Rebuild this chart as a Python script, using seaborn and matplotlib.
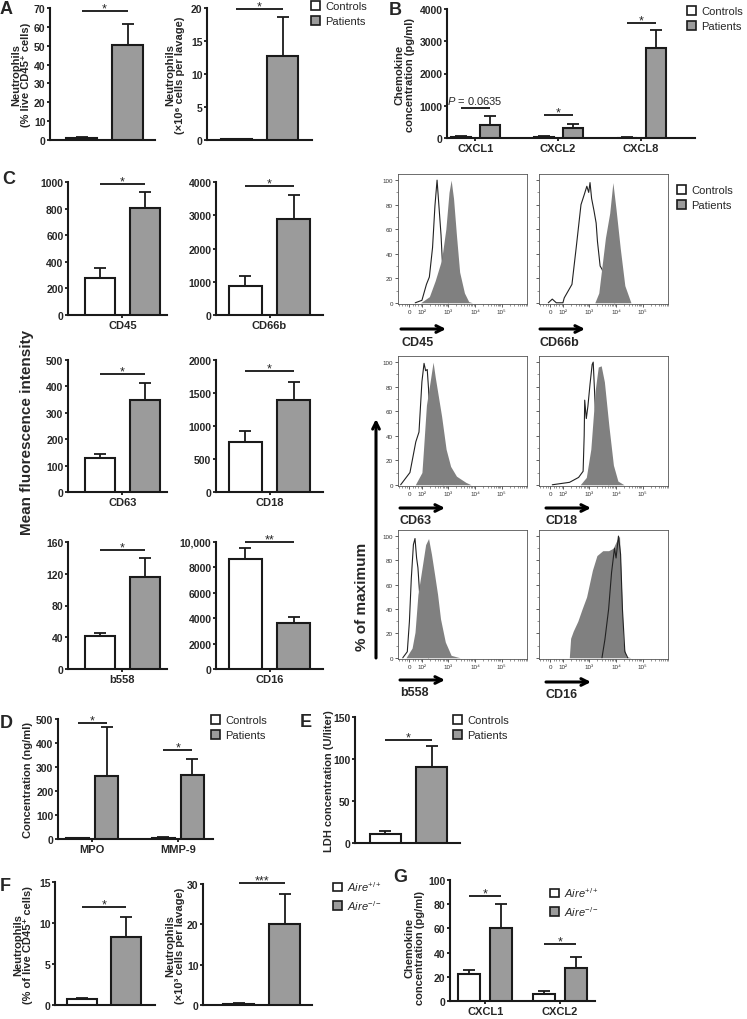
import numpy as np
import pandas as pd
import seaborn as sns
import matplotlib.pyplot as plt
from matplotlib.patches import Patch

sns.set_style("ticks")
plt.rcParams["font.family"] = ["Liberation Sans", "DejaVu Sans"]
plt.rcParams["font.weight"] = "bold"
plt.rcParams["mathtext.fontset"] = "custom"
plt.rcParams["mathtext.rm"] = "Liberation Sans:weight=normal"
plt.rcParams["mathtext.it"] = "Liberation Sans:style=italic:weight=normal"
plt.rcParams["mathtext.bf"] = "Liberation Sans:weight=bold"

# ---- data ----
groups = ["Controls", "Patients"]

# A: neutrophils in lavage
a_pct = [1.0, 50.5]
a_pct_err = [0.4, 10.8]
a_cells = [0.1, 12.7]
a_cells_err = [0.05, 5.9]

# B: chemokines
b_cats = ["CXCL1", "CXCL2", "CXCL8"]
b_ctrl = [45, 40, 12]
b_ctrl_err = [20, 15, 5]
b_pat = [410, 300, 2790]
b_pat_err = [270, 140, 560]
b_sig_y = [930, 713, 3565]
b_sig_txt = ["$\\it{P}$ = 0.0635", "*", "*"]

# C: mean fluorescence intensity
c_markers = ["CD45", "CD66b", "CD63", "CD18", "b558", "CD16"]
c_ctrl = [278, 880, 128, 755, 42, 8640]
c_ctrl_err = [72, 280, 16, 175, 3, 915]
c_pat = [807, 2900, 349, 1397, 116, 3586]
c_pat_err = [118, 720, 62, 271, 23.5, 472]
c_ymax = [1000, 4000, 500, 2000, 160, 10000]
c_ystep = [200, 1000, 100, 500, 40, 2000]
c_sig_y = [985, 3880, 447, 1833, 150, 10000]
c_stars = ["*", "*", "*", "*", "*", "**"]

# C: flow histograms (display position in decades from 10^2, % of max)
cd45_ctrl_x = [-0.25, 0.0, 0.17, 0.28, 0.4, 0.49, 0.57, 0.62, 0.72, 0.8, 0.9, 1.0]
cd45_ctrl_y = [0, 2, 15, 21, 45, 79, 100, 85, 55, 20, 3, 0]
cd45_pat_x = [-0.05, 0.28, 0.5, 0.74, 0.9, 1.02, 1.1, 1.19, 1.3, 1.42, 1.6, 1.76, 1.9]
cd45_pat_y = [0, 5, 18, 35, 60, 90, 100, 85, 55, 25, 8, 1, 0]
cd66b_ctrl_x = [-0.55, -0.4, -0.25, 0.0, 0.05, 0.34, 0.5, 0.68, 0.8, 0.9, 0.97, 1.02, 1.08, 1.17, 1.25, 1.3, 1.4, 1.48, 1.6, 1.78, 1.95]
cd66b_ctrl_y = [0, 3, 0, 0, 4, 15, 45, 80, 88, 95, 90, 98, 85, 75, 65, 50, 30, 27, 15, 4, 0]
cd66b_pat_x = [1.2, 1.35, 1.6, 1.76, 1.88, 2.0, 2.16, 2.33, 2.56]
cd66b_pat_y = [0, 8, 53, 73, 98, 76, 44, 14, 0]
cd63_ctrl_x = [-0.8, -0.45, -0.23, -0.11, 0.0, 0.08, 0.14, 0.2, 0.25, 0.34, 0.45, 0.62, 0.8]
cd63_ctrl_y = [0, 10, 35, 43, 84, 99, 93, 94, 78, 37, 15, 5, 0]
cd63_pat_x = [-0.25, 0.0, 0.06, 0.17, 0.28, 0.42, 0.5, 0.62, 0.74, 0.91, 1.08, 1.3, 1.65, 1.85]
cd63_pat_y = [0, 10, 29, 65, 80, 100, 88, 72, 56, 29, 15, 7, 2, 0]
cd18_ctrl_x = [-0.4, 0.25, 0.59, 0.76, 0.8, 0.82, 0.88, 0.94, 1.02, 1.1, 1.14, 1.22, 1.3, 1.4, 1.56, 1.73]
cd18_ctrl_y = [0, 2, 6, 11, 40, 69, 54, 64, 82, 98, 100, 62, 40, 15, 3, 0]
cd18_pat_x = [0.65, 0.88, 1.05, 1.22, 1.33, 1.44, 1.56, 1.73, 1.9, 2.07, 2.3]
cd18_pat_y = [0, 6, 29, 78, 96, 97, 84, 48, 16, 3, 0]
b558_ctrl_x = [-0.72, -0.55, -0.47, -0.4, -0.32, -0.26, -0.2, -0.15, -0.09, -0.03, 0.08, 0.25]
b558_ctrl_y = [0, 5, 30, 65, 93, 98, 82, 74, 54, 21, 5, 0]
b558_pat_x = [-0.6, -0.37, -0.26, -0.15, 0.02, 0.14, 0.25, 0.36, 0.48, 0.59, 0.7, 0.88, 1.1, 1.44]
b558_pat_y = [0, 8, 21, 52, 76, 93, 98, 85, 68, 52, 32, 13, 2, 0]
cd16_ctrl_x = [1.47, 1.58, 1.72, 1.83, 1.94, 2.0, 2.09, 2.17, 2.24, 2.33, 2.44]
cd16_ctrl_y = [0, 15, 40, 70, 90, 82, 100, 85, 40, 5, 0]
cd16_pat_x = [0.24, 0.29, 0.39, 0.56, 0.72, 0.89, 1.11, 1.28, 1.5, 1.72, 1.89, 2.06, 2.13, 2.2, 2.28, 2.39, 2.56]
cd16_pat_y = [0, 16, 22, 30, 40, 50, 72, 84, 88, 88, 90, 98, 100, 60, 10, 1, 0]
hist_ticks = [-0.47, 0, 1, 2, 3]
hist_ticklabels = ["0", "10²", "10³", "10⁴", "10⁵"]

# D: MPO / MMP-9
d_cats = ["MPO", "MMP-9"]
d_ctrl = [3, 5]
d_ctrl_err = [1, 2]
d_pat = [262, 265]
d_pat_err = [205, 70]
d_sig_y = [485, 370]

# E: LDH
e_ctrl = [10.7]
e_ctrl_err = [3.6]
e_pat = [90.5]
e_pat_err = [24.5]

# F: Aire mice neutrophils
f_pct = [0.7, 8.3]
f_pct_err = [0.2, 2.4]
f_cells = [0.3, 20.1]
f_cells_err = [0.15, 7.5]

# G: Aire mice chemokines
g_cats = ["CXCL1", "CXCL2"]
g_ctrl = [22, 6]
g_ctrl_err = [4, 2]
g_pat = [60, 27]
g_pat_err = [20, 9]
g_sig_y = [87, 47]

W, H = 747, 1020
EDGE = "#1a1a1a"
GREY = "#9b9b9b"
FILL = "#808080"
pal = {"Controls": "white", "Patients": GREY}

fig = plt.figure(figsize=(W / 100, H / 100), dpi=100)


def px_axes(x0, y0, x1, y1):
    return fig.add_axes([x0 / W, 1 - y1 / H, (x1 - x0) / W, (y1 - y0) / H])


def bar_panel(rect, cats, ctrl, ctrl_err, pat, pat_err, ymax, ystep, xlim,
              width=0.9, gap=0.33, show_x=True, ylabels=None):
    ax = px_axes(*rect)
    df = pd.DataFrame({"cat": list(cats) * 2,
                       "grp": ["Controls"] * len(cats) + ["Patients"] * len(cats),
                       "val": list(ctrl) + list(pat)})
    sns.barplot(data=df, x="cat", y="val", hue="grp", order=list(cats),
                hue_order=groups, palette=pal, edgecolor=EDGE, linewidth=1.5,
                width=width, gap=gap, errorbar=None, legend=False, ax=ax, zorder=3)
    centers = []
    for cont, errs in zip(ax.containers, [ctrl_err, pat_err]):
        cs = []
        for p, e in zip(cont, errs):
            cx = p.get_x() + p.get_width() / 2
            ax.errorbar(cx, p.get_height(), yerr=[[0], [e]], fmt="none",
                        ecolor=EDGE, elinewidth=1.3, capsize=4.5, capthick=1.3,
                        zorder=2)
            cs.append(cx)
        centers.append(cs)
    ax.spines[["top", "right"]].set_visible(False)
    for s in ["left", "bottom"]:
        ax.spines[s].set_linewidth(1.5)
        ax.spines[s].set_color(EDGE)
    ax.set_ylim(0, ymax)
    ticks = np.arange(0, ymax + 1, ystep)
    ax.set_yticks(ticks)
    if ylabels is not None:
        ax.set_yticklabels(ylabels)
    ax.set_xlim(*xlim)
    ax.set_xlabel("")
    ax.set_ylabel("")
    ax.tick_params(axis="both", length=2.5, width=1.3, labelsize=7.5, pad=0.8,
                   color=EDGE)
    ax.tick_params(axis="x", labelsize=8, pad=1)
    if not show_x:
        ax.set_xticks([])
    return ax, centers


def sig(ax, x0, x1, y, txt, size=9, off=-2.5):
    ax.plot([x0, x1], [y, y], color="black", lw=1.2, clip_on=False,
            solid_capstyle="butt")
    ax.annotate(txt, xy=((x0 + x1) / 2, y), xytext=(0, off),
                textcoords="offset points", ha="center", va="bottom",
                fontsize=size, fontweight="normal", annotation_clip=False)


def legend(x, y, labels=groups):
    handles = [Patch(facecolor="white", edgecolor=EDGE, lw=1.2),
               Patch(facecolor=GREY, edgecolor=EDGE, lw=1.2)]
    fig.legend(handles, labels, loc="upper left",
               bbox_to_anchor=(x / W, 1 - (y - 7) / H), frameon=False,
               prop={"size": 8, "weight": "normal"}, handlelength=0.8,
               handleheight=0.8, handletextpad=0.5, labelspacing=0.45,
               borderpad=0, borderaxespad=0)


def ylab(x, y, txt, size=8):
    fig.text(x / W, 1 - y / H, txt, rotation=90, ha="center", va="center",
             fontsize=size, fontweight="bold", linespacing=1.05,
             multialignment="center")


def letter(x, y, s):
    fig.text(x / W, 1 - y / H, s, fontsize=13, fontweight="bold",
             ha="left", va="top")


# ---------------- A ----------------
ax, c = bar_panel((50, 9, 155, 141), ["x"], [a_pct[0]], [a_pct_err[0]],
                  [a_pct[1]], [a_pct_err[1]], 70, 10, (-0.52, 0.48),
                  width=0.88, gap=0.33, show_x=False)
sig(ax, c[0][0], c[1][0], 68.5, "*")
ax, c = bar_panel((207, 9, 312, 141), ["x"], [a_cells[0]], [a_cells_err[0]],
                  [a_cells[1]], [a_cells_err[1]], 20, 5, (-0.5, 0.5),
                  width=0.88, gap=0.33, show_x=False)
sig(ax, c[0][0], c[1][0], 19.8, "*")
ylab(21, 75, "Neutrophils\n(% live CD45⁺ cells)")
ylab(175, 75, "Neutrophils\n(×10⁶ cells per lavage)")
legend(311, 9)
letter(0, 1, "A")

# ---------------- B ----------------
ax, c = bar_panel((447, 10, 695, 139), b_cats, b_ctrl, b_ctrl_err, b_pat,
                  b_pat_err, 4000, 1000, (-0.34, 2.65), width=0.7, gap=0.31)
for i in range(3):
    if i == 0:
        sig(ax, c[0][i], c[1][i], b_sig_y[i], b_sig_txt[i], size=8, off=1.5)
    else:
        sig(ax, c[0][i], c[1][i], b_sig_y[i], b_sig_txt[i])
ylab(405, 75, "Chemokine\nconcentration (pg/ml)")
legend(687, 14)
letter(389, 2, "B")

# ---------------- C bars ----------------
rows = [(183, 316), (361, 493), (543, 670)]
cols = [((68, 167), (-0.55, 0.45)), ((216, 323), (-0.5, 0.5))]
for i, m in enumerate(c_markers):
    (x0, x1), xl = cols[i % 2]
    y0, y1 = rows[i // 2]
    ylabels = None
    if m == "CD16":
        ylabels = ["0", "2000", "4000", "6000", "8000", "10,000"]
    ax, c = bar_panel((x0, y0, x1, y1), [m], [c_ctrl[i]], [c_ctrl_err[i]],
                      [c_pat[i]], [c_pat_err[i]], c_ymax[i], c_ystep[i], xl,
                      width=0.9, gap=0.33, ylabels=ylabels)
    sig(ax, c[0][0], c[1][0], c_sig_y[i], c_stars[i])
ylab(27, 432, "Mean fluorescence intensity", size=11)
letter(2, 171, "C")

# ---------------- C histograms ----------------
hists = [
    (cd45_ctrl_x, cd45_ctrl_y, cd45_pat_x, cd45_pat_y, "CD45", False),
    (cd66b_ctrl_x, cd66b_ctrl_y, cd66b_pat_x, cd66b_pat_y, "CD66b", False),
    (cd63_ctrl_x, cd63_ctrl_y, cd63_pat_x, cd63_pat_y, "CD63", False),
    (cd18_ctrl_x, cd18_ctrl_y, cd18_pat_x, cd18_pat_y, "CD18", False),
    (b558_ctrl_x, b558_ctrl_y, b558_pat_x, b558_pat_y, "b558", False),
    (cd16_ctrl_x, cd16_ctrl_y, cd16_pat_x, cd16_pat_y, "CD16", True),
]
h_rows = [(175, 305), (357, 487), (531, 660)]
h_cols = [(398, 527), (539, 668)]
arrow_pos = [(401, 330, 343), (540, 330, 343), (400, 509, 521), (546, 509, 521),
             (400, 681, 693), (546, 683, 695)]
minor = [d + np.log10(k) for d in range(0, 4) for k in range(2, 10)]
minor += [-0.85, -0.75, -0.65, -0.55, -0.35, -0.25, -0.15, -0.05]
for i, (cx, cy, hx, hy, name, line_top) in enumerate(hists):
    x0, x1 = h_cols[i % 2]
    y0, y1 = h_rows[i // 2]
    ax = px_axes(x0, y0, x1, y1)
    ax.fill_between(hx, hy, 0, color=FILL, lw=0, zorder=2 if line_top else 4)
    sns.lineplot(x=cx, y=cy, ax=ax, color="#222222", lw=0.8, sort=False,
                 estimator=None, zorder=5 if line_top else 3)
    ax.set_xlim(-0.9, 3.48)
    ax.set_ylim(-1, 105)
    ax.set_xticks(hist_ticks)
    ax.set_xticklabels(hist_ticklabels)
    ax.set_xticks(minor, minor=True)
    ax.set_yticks(range(0, 101, 20))
    ax.set_yticks(range(0, 101, 10), minor=True)
    if i % 2 == 1:
        ax.set_yticklabels([])
    for s in ax.spines.values():
        s.set_linewidth(0.6)
        s.set_color("#555555")
    ax.tick_params(which="major", length=2.2, width=0.6, labelsize=4.5, pad=1.5,
                   color="#444444", labelcolor="#333333")
    ax.tick_params(which="minor", length=1.2, width=0.4, color="#444444")
    for t in ax.get_xticklabels() + ax.get_yticklabels():
        t.set_fontweight("normal")
    ax.set_xlabel("")
    ax.set_ylabel("")
    ax0, ay, ly = arrow_pos[i]
    ax.annotate("", xy=(ax0 + 45, H - ay), xytext=(ax0, H - ay),
                xycoords="figure pixels", textcoords="figure pixels",
                arrowprops=dict(arrowstyle="->", lw=2.2, color="black",
                                mutation_scale=12, shrinkA=0, shrinkB=0))
    fig.text(ax0 / W, 1 - ly / H, name, fontsize=9, fontweight="bold",
             ha="left", va="center")
    if i == 5:
        ax.annotate("", xy=(376, H - 420), xytext=(376, H - 659),
                    xycoords="figure pixels", textcoords="figure pixels",
                    arrowprops=dict(arrowstyle="->", lw=2.2, color="black",
                                    mutation_scale=12, shrinkA=0, shrinkB=0))
ylab(362, 597, "% of maximum", size=11)
legend(677, 193)

# ---------------- D ----------------
ax, c = bar_panel((58, 720, 213, 840), d_cats, d_ctrl, d_ctrl_err, d_pat,
                  d_pat_err, 500, 100, (-0.4, 1.41), width=0.68, gap=0.2)
for i in range(2):
    sig(ax, c[0][i], c[1][i], d_sig_y[i], "*")
ylab(28, 780, "Concentration (ng/ml)")
legend(211, 723)
letter(0, 715, "D")

# ---------------- E ----------------
ax, c = bar_panel((355, 718, 460, 844), ["x"], e_ctrl, e_ctrl_err, e_pat,
                  e_pat_err, 150, 50, (-0.51, 0.49), width=0.88, gap=0.33,
                  show_x=False)
sig(ax, c[0][0], c[1][0], 122.5, "*")
ylab(329, 781, "LDH concentration (U/liter)")
legend(453, 723)
letter(300, 714, "E")

# ---------------- F ----------------
aire = ["$Aire^{+/+}$", "$Aire^{-/-}$"]
ax, c = bar_panel((55, 883, 155, 1006), ["x"], [f_pct[0]], [f_pct_err[0]],
                  [f_pct[1]], [f_pct_err[1]], 15, 5, (-0.49, 0.51),
                  width=0.88, gap=0.33, show_x=False)
sig(ax, c[0][0], c[1][0], 12.0, "*")
ax, c = bar_panel((203, 885, 312, 1006), ["x"], [f_cells[0]], [f_cells_err[0]],
                  [f_cells[1]], [f_cells_err[1]], 30, 10, (-0.56, 0.48),
                  width=0.88, gap=0.33, show_x=False)
sig(ax, c[0][0], c[1][0], 30.2, "***")
ylab(23, 945, "Neutrophils\n(% of live CD45⁺ cells)")
ylab(175, 946, "Neutrophils\n(×10³ cells per lavage)")
legend(333, 887, aire)
letter(0, 878, "F")

# ---------------- G ----------------
ax, c = bar_panel((450, 881, 595, 1002), g_cats, g_ctrl, g_ctrl_err, g_pat,
                  g_pat_err, 100, 20, (-0.47, 1.47), width=0.85, gap=0.32)
for i in range(2):
    sig(ax, c[0][i], c[1][i], g_sig_y[i], "*")
ylab(415, 948, "Chemokine\nconcentration (pg/ml)")
legend(550, 893, aire)
letter(393, 869, "G")

fig.savefig("out.png", dpi=100)
